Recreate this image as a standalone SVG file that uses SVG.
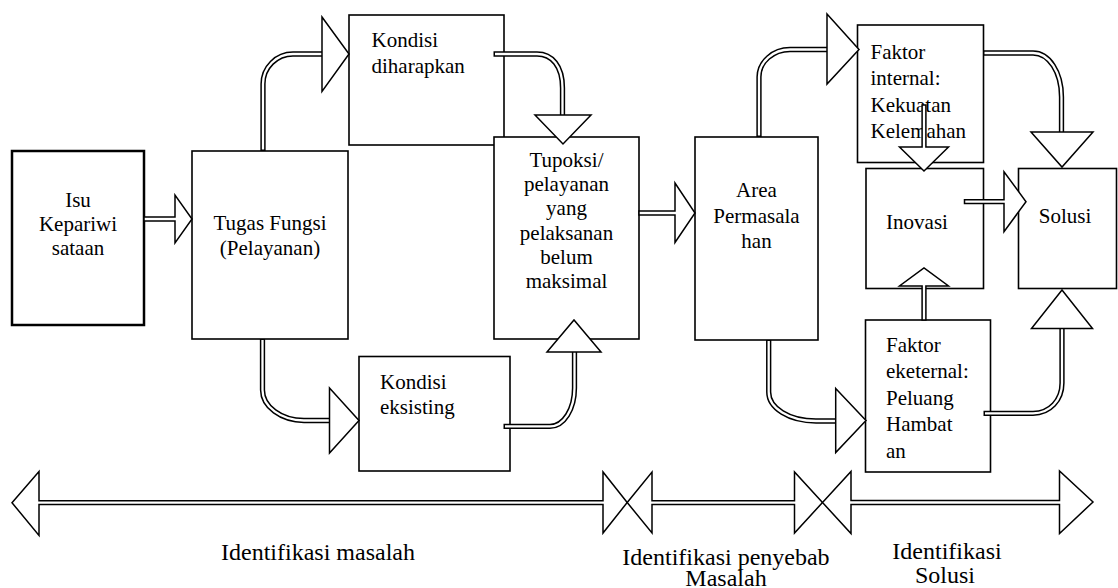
<svg xmlns="http://www.w3.org/2000/svg" width="1118" height="588" viewBox="0 0 1118 588">
<style>
.box{fill:#fff;stroke:#000;stroke-width:1.6}
.thick{stroke-width:2.5}
.t{font-family:'Liberation Serif','DejaVu Serif',serif;font-size:21px;fill:#000}
.c{text-anchor:middle}
.lbl{font-family:'Liberation Serif','DejaVu Serif',serif;font-size:24px;fill:#000;text-anchor:middle}
.sb{fill:none;stroke:#000;stroke-width:5.3}
.sw{fill:none;stroke:#fff;stroke-width:2.3}
.hd{fill:#fff;stroke:#000;stroke-width:1.5;stroke-linejoin:miter}
</style>
<rect width="1118" height="588" fill="#fff"/>

<g id="isu" font-family="Liberation Serif, serif">
<rect class="box thick" x="12" y="151" width="132" height="174"/>
<text class="t c" x="78" y="206.5">Isu</text>
<text class="t c" x="78" y="230.5">Kepariwi</text>
<text class="t c" x="78" y="254.5">sataan</text>
</g>
<g id="tugas">
<rect class="box" x="192" y="151" width="156" height="188"/>
<text class="t c" x="270" y="229.5">Tugas Fungsi</text>
<text class="t c" x="270" y="254.5">(Pelayanan)</text>
</g>
<g id="kondisi-diharapkan">
<rect class="box" x="349" y="15" width="155" height="130"/>
<text class="t" x="371.5" y="46.5">Kondisi</text>
<text class="t" x="371.5" y="73">diharapkan</text>
</g>
<g id="kondisi-eksisting">
<rect class="box" x="359" y="356.5" width="151" height="114.5"/>
<text class="t" x="380" y="389">Kondisi</text>
<text class="t" x="380" y="414">eksisting</text>
</g>
<g id="tupoksi">
<rect class="box" x="494" y="137" width="145" height="202"/>
<text class="t c" x="566.5" y="167">Tupoksi/</text>
<text class="t c" x="566.5" y="191.2">pelayanan</text>
<text class="t c" x="566.5" y="215.4">yang</text>
<text class="t c" x="566.5" y="239.6">pelaksanan</text>
<text class="t c" x="566.5" y="263.8">belum</text>
<text class="t c" x="566.5" y="288">maksimal</text>
</g>
<g id="area">
<rect class="box" x="695" y="137" width="123" height="203"/>
<text class="t c" x="756.5" y="197">Area</text>
<text class="t c" x="756.5" y="222.5">Permasala</text>
<text class="t c" x="756.5" y="248">han</text>
</g>
<g id="faktor-internal">
<rect class="box" x="857.5" y="25" width="126" height="137.5"/>
<text class="t" x="870.5" y="58.5">Faktor</text>
<text class="t" x="870.5" y="85">internal:</text>
<text class="t" x="870.5" y="111.5">Kekuatan</text>
<text class="t" x="870.5" y="138">Kelemahan</text>
</g>
<g id="inovasi">
<rect class="box" x="866" y="168.5" width="117.5" height="120"/>
<text class="t c" x="917" y="228.5">Inovasi</text>
</g>
<g id="solusi">
<rect class="box" x="1018.5" y="168.5" width="98" height="120"/>
<text class="t c" x="1065" y="222.5">Solusi</text>
</g>
<g id="faktor-eksternal">
<rect class="box" x="865.5" y="320" width="125" height="152"/>
<text class="t" x="886" y="351.5">Faktor</text>
<text class="t" x="886" y="378">eketernal:</text>
<text class="t" x="886" y="404.5">Peluang</text>
<text class="t" x="886" y="431">Hambat</text>
<text class="t" x="886" y="457.5">an</text>
</g>

<g id="connectors">
<polygon class="hd" points="144,217.1 175,217.1 175,195 192,219 175,243 175,220.9 144,220.9"/>
<path class="sb" d="M263,151 V84 A30,30 0 0 1 293,54 H324"/>
<path class="sw" d="M263,149.5 V84 A30,30 0 0 1 293,54 H324"/>
<polygon class="hd" points="322,17 349,54 322,91.5"/>
<path class="sb" d="M493.5,54 H537 C552,54 562.5,66 562.5,88 V117"/>
<path class="sw" d="M495,54 H537 C552,54 562.5,66 562.5,88 V117"/>
<polygon class="hd" points="535,115 591,115 563,144"/>
<polygon class="hd" points="639,211.1 675,211.1 675,183 695,213 675,242.5 675,214.9 639,214.9"/>
<path class="sb" d="M262.5,339 V390 C262.5,406.5 281,420.5 304,420.5 H331"/>
<path class="sw" d="M262.5,340 V390 C262.5,406.5 281,420.5 304,420.5 H331"/>
<polygon class="hd" points="329.5,388 359,420.5 329.5,453"/>
<path class="sb" d="M503.5,426.3 H550 C564,426.3 574.5,409 574.5,388 V350"/>
<path class="sw" d="M505,426.3 H550 C564,426.3 574.5,409 574.5,388 V350"/>
<polygon class="hd" points="547,352 601,352 574,320"/>
<path class="sb" d="M759,137 V77 C759,62 773,49.5 790,49.5 H829"/>
<path class="sw" d="M759,135.5 V77 C759,62 773,49.5 790,49.5 H829"/>
<polygon class="hd" points="827,14 859,49.5 827,84"/>
<path class="sb" d="M983,53 H1033 C1049,53 1061.5,72 1061.5,97 V134"/>
<path class="sw" d="M984.5,53 H1033 C1049,53 1061.5,72 1061.5,97 V134"/>
<polygon class="hd" points="1031,132 1093,132 1062,167"/>
<polygon class="hd" points="922.1,105 925.9,105 925.9,147 948.5,147 924,171 899.5,147 922.1,147"/>
<polygon class="hd" points="964.5,199.8 1004,199.8 1004,171.7 1026,201.7 1004,231.7 1004,203.6 964.5,203.6"/>
<polygon class="hd" points="922.1,320 925.9,320 925.9,286 948.5,286 924,268 899.5,286 922.1,286"/>
<path class="sb" d="M983.5,413.3 H1033 C1050,413.3 1062,400 1062,383 V326"/>
<path class="sw" d="M985,413.3 H1033 C1050,413.3 1062,400 1062,383 V326"/>
<polygon class="hd" points="1031.5,328.5 1092.5,328.5 1062,290"/>
<path class="sb" d="M768.7,340 V392 C768.7,408 789,421 816,421 H838"/>
<path class="sw" d="M768.7,341 V392 C768.7,408 789,421 816,421 H838"/>
<polygon class="hd" points="835.7,388.5 866,420.5 835.7,452.5"/>
<polygon class="hd" points="12,502.7 39,471.5 39,500.8 603,500.8 603,472 627.2,502.5 603,533 603,504.6 39,504.6 39,535.5"/>
<polygon class="hd" points="627.2,502.5 652,472 652,500.8 794.5,500.8 794.5,472 822.5,502.5 794.5,533 794.5,504.6 652,504.6 652,533"/>
<polygon class="hd" points="822.5,502.5 851,471.5 851,500.6 1059.5,500.6 1059.5,471 1093,502 1059.5,533.5 1059.5,504.4 851,504.4 851,533.5"/>
</g>

<g id="labels">
<text class="lbl" x="318" y="560">Identifikasi masalah</text>
<text class="lbl" x="726" y="565">Identifikasi penyebab</text>
<text class="lbl" x="726" y="586">Masalah</text>
<text class="lbl" x="947" y="559">Identifikasi</text>
<text class="lbl" x="945" y="583">Solusi</text>
</g>
</svg>
